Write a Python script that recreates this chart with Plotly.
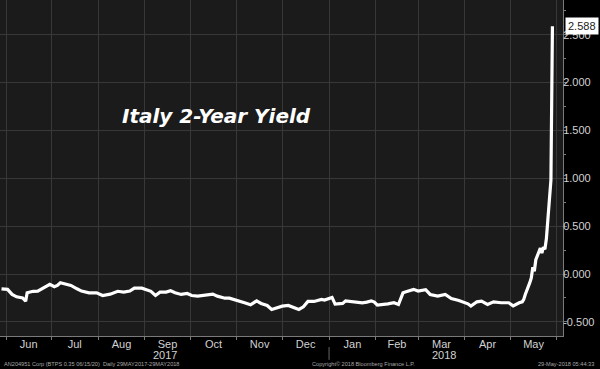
import plotly.graph_objects as go

# ---- data ----
dates = [
    "2017-05-29", "2017-06-02", "2017-06-05", "2017-06-08", "2017-06-12", "2017-06-14",
    "2017-06-15", "2017-06-19", "2017-06-22", "2017-06-26", "2017-06-28", "2017-06-30",
    "2017-07-03", "2017-07-05", "2017-07-07", "2017-07-11", "2017-07-14", "2017-07-18",
    "2017-07-21", "2017-07-26", "2017-07-31", "2017-08-04", "2017-08-09", "2017-08-14",
    "2017-08-18", "2017-08-22", "2017-08-25", "2017-08-30", "2017-09-01", "2017-09-05",
    "2017-09-08", "2017-09-11", "2017-09-15", "2017-09-18", "2017-09-21", "2017-09-25",
    "2017-09-29", "2017-10-02", "2017-10-06", "2017-10-11", "2017-10-16", "2017-10-19",
    "2017-10-24", "2017-10-27", "2017-11-01", "2017-11-06", "2017-11-10", "2017-11-14",
    "2017-11-17", "2017-11-21", "2017-11-24", "2017-11-27", "2017-12-01", "2017-12-05",
    "2017-12-08", "2017-12-12", "2017-12-15", "2017-12-18", "2017-12-22", "2017-12-27",
    "2017-12-29", "2018-01-03", "2018-01-05", "2018-01-10", "2018-01-12", "2018-01-18",
    "2018-01-23", "2018-01-26", "2018-01-29", "2018-01-31", "2018-02-02", "2018-02-09",
    "2018-02-13", "2018-02-16", "2018-02-19", "2018-02-21", "2018-02-26", "2018-03-01",
    "2018-03-06", "2018-03-09", "2018-03-14", "2018-03-19", "2018-03-23", "2018-03-28",
    "2018-04-03", "2018-04-05", "2018-04-09", "2018-04-12", "2018-04-16", "2018-04-20",
    "2018-04-25", "2018-04-30", "2018-05-03", "2018-05-07", "2018-05-09", "2018-05-10",
    "2018-05-11", "2018-05-14", "2018-05-15", "2018-05-16", "2018-05-17", "2018-05-18",
    "2018-05-21", "2018-05-22", "2018-05-23", "2018-05-24", "2018-05-25", "2018-05-28",
    "2018-05-29",
]
values = [
    -0.154, -0.160, -0.213, -0.238, -0.250, -0.283,
    -0.196, -0.180, -0.178, -0.147, -0.126, -0.108,
    -0.133, -0.119, -0.091, -0.108, -0.119, -0.154,
    -0.178, -0.196, -0.196, -0.224, -0.210, -0.180,
    -0.189, -0.178, -0.147, -0.147, -0.160, -0.180,
    -0.224, -0.189, -0.189, -0.175, -0.196, -0.213,
    -0.203, -0.224, -0.231, -0.224, -0.210, -0.231,
    -0.252, -0.252, -0.272, -0.300, -0.321, -0.280,
    -0.307, -0.328, -0.370, -0.356, -0.335, -0.328,
    -0.349, -0.370, -0.342, -0.286, -0.286, -0.265,
    -0.272, -0.244, -0.314, -0.307, -0.280, -0.293,
    -0.300, -0.293, -0.280, -0.293, -0.325, -0.311,
    -0.300, -0.318, -0.196, -0.185, -0.160, -0.178,
    -0.164, -0.213, -0.231, -0.213, -0.255, -0.276,
    -0.311, -0.335, -0.290, -0.283, -0.318, -0.290,
    -0.300, -0.300, -0.332, -0.300, -0.290, -0.265,
    -0.213, -0.090, -0.040, 0.070, 0.030, 0.150,
    0.270, 0.220, 0.280, 0.260, 0.370, 0.980,
    2.588,
]

y_tick_values = [-0.5, 0.0, 0.5, 1.0, 1.5, 2.0, 2.5]
y_tick_labels = ["-0.500", "0.000", "0.500", "1.000", "1.500", "2.000", "2.500"]
year_labels = ["2017", "2018"]
year_label_dates = ["2017-09-14", "2018-03-18"]
year_boundary = "2018-01-01"
x_range = ["2017-05-28", "2018-06-05"]
y_range = [-0.647, 2.862]

title_text = "Italy 2-Year Yield"
footer_left = "AN204951 Corp (BTPS 0.35 06/15/20)  Daily 29MAY2017-29MAY2018"
footer_mid = "Copyright\u00a9 2018 Bloomberg Finance L.P."
footer_right = "29-May-2018 05:44:33"

AX = "#d2d2d2"
GRID = "#383838"
LINE = "#7a7a7a"
FONT = "Liberation Sans, Arial, sans-serif"

fig = go.Figure(
    go.Scatter(
        x=dates, y=values, mode="lines",
        line=dict(color="white", width=3.2),
        hoverinfo="skip", showlegend=False,
    )
)

fig.update_layout(
    width=600, height=369,
    margin=dict(l=0, r=37, t=0, b=33),
    paper_bgcolor="#000000",
    plot_bgcolor="#1b1b1b",
    font=dict(family=FONT, color=AX, size=11),
    showlegend=False,
)

fig.update_xaxes(
    type="date", range=x_range,
    tick0="2017-06-01", dtick="M1", ticklabelmode="period", tickformat="%b",
    ticks="outside", ticklen=3, tickcolor=LINE,
    ticklabelstandoff=-5,
    showgrid=True, gridcolor=GRID, gridwidth=1,
    showline=True, linecolor=LINE, linewidth=1,
    zeroline=False, tickfont=dict(size=11, color=AX, family=FONT),
)

fig.update_yaxes(
    side="right", range=y_range,
    tickmode="array", tickvals=y_tick_values, ticktext=y_tick_labels,
    ticks="outside", ticklen=3, tickcolor=LINE,
    ticklabelstandoff=-6,
    minor=dict(tickmode="linear", tick0=0, dtick=0.25, ticks="outside",
               ticklen=2, tickcolor=LINE, showgrid=False),
    showgrid=True, gridcolor=GRID, gridwidth=1,
    showline=True, linecolor=LINE, linewidth=1,
    zeroline=False, tickfont=dict(size=11, color=AX, family=FONT),
)

annotations = [
    dict(text="<b><i>" + title_text + "</i></b>", xref="paper", yref="paper",
         x=0.213, y=0.655, xanchor="left", yanchor="middle", showarrow=False,
         font=dict(family="DejaVu Sans", size=20, color="white")),
    dict(text="%.3f" % values[-1], xref="paper", yref="y", x=1, y=values[-1],
         xanchor="left", yanchor="middle", xshift=2, showarrow=False,
         bgcolor="white", borderpad=2,
         font=dict(family=FONT, size=11, color="#222222")),
    dict(text=footer_left, xref="paper", yref="paper", x=0.004, y=-0.083,
         xanchor="left", yanchor="middle", showarrow=False,
         font=dict(family=FONT, size=5.6, color="#a8a8a8")),
    dict(text=footer_mid, xref="paper", yref="paper", x=0.645, y=-0.083,
         xanchor="center", yanchor="middle", showarrow=False,
         font=dict(family=FONT, size=5.6, color="#a8a8a8")),
    dict(text=footer_right, xref="paper", yref="paper", x=1.058, y=-0.083,
         xanchor="right", yanchor="middle", showarrow=False,
         font=dict(family=FONT, size=5.6, color="#a8a8a8")),
]
for lab, d in zip(year_labels, year_label_dates):
    annotations.append(dict(text=lab, xref="x", yref="paper", x=d, y=-0.056,
                            xanchor="center", yanchor="middle", showarrow=False,
                            font=dict(family=FONT, size=11, color=AX)))
fig.update_layout(annotations=annotations)

fig.add_shape(type="line", xref="x", yref="paper", x0=year_boundary, x1=year_boundary,
              y0=-0.033, y1=-0.071, line=dict(color="#666666", width=1))

fig.write_html("out.html", config={"displayModeBar": False},
               post_script="document.body.style.margin='0';")
